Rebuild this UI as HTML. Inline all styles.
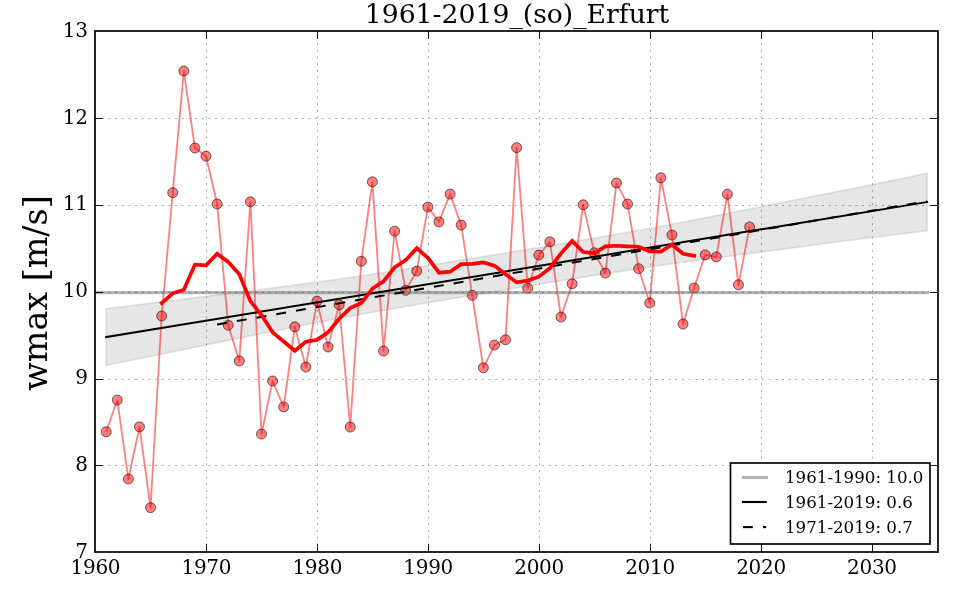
<!DOCTYPE html>
<html lang="de">
<head>
<meta charset="utf-8">
<title>1961-2019_(so)_Erfurt</title>
<style>
html,body{margin:0;padding:0;background:#fff;}
body{width:960px;height:600px;overflow:hidden;}
svg{display:block;will-change:transform;}
text{font-family:"DejaVu Serif","Liberation Serif",serif;fill:#000;font-stretch:normal;}
.tk{font-size:20px;letter-spacing:-0.3px;}
.lg{font-size:16.67px;}
</style>
</head>
<body>
<svg width="960" height="600" viewBox="0 0 960 600">
<rect x="0" y="0" width="960" height="600" fill="#ffffff"/>
<clipPath id="ax"><rect x="95" y="31" width="843" height="521"/></clipPath>
<g clip-path="url(#ax)">
<polygon points="106.19,308.77 150.56,303.27 206.03,296.34 261.5,289.52 316.96,282.2 372.42,274.27 427.89,265.55 483.36,256.62 538.82,247.5 594.28,238.18 649.75,228.45 705.22,217.83 760.68,206.7 816.14,195.78 871.61,184.86 927.08,173.28 927.08,230.78 871.61,237.46 816.14,244.78 760.68,252.1 705.22,259.23 649.75,266.85 594.28,275.38 538.82,284.3 483.36,293.42 427.89,302.75 372.42,312.27 316.96,322.6 261.5,333.52 206.03,344.94 150.56,356.27 106.19,365.37" fill="rgb(128,128,128)" fill-opacity="0.2" stroke="rgb(128,128,128)" stroke-opacity="0.2" stroke-width="1.67"/>
<polyline points="106.19,431.85 117.29,400 128.38,479.05 139.47,426.85 150.56,507.65 161.66,316 172.75,192.7 183.84,71 194.94,148 206.03,156.25 217.12,204 228.22,325.25 239.31,360.9 250.4,201.85 261.5,434.05 272.59,381 283.68,406.95 294.77,326.85 305.87,367 316.96,301.1 328.05,346.95 339.15,304.8 350.24,427.05 361.33,261.25 372.42,181.85 383.52,351.05 394.61,231.2 405.7,290.3 416.8,271.05 427.89,207.05 438.98,221.9 450.08,194.1 461.17,225.05 472.26,295.3 483.36,367.8 494.45,345.05 505.54,339.8 516.63,147.65 527.73,288.3 538.82,255.05 549.91,241.8 561.01,317.05 572.1,283.8 583.19,204.8 594.28,252.8 605.38,273.05 616.47,183.05 627.56,204.05 638.66,268.7 649.75,303.05 660.84,177.8 671.94,235.05 683.03,324.05 694.12,288.05 705.22,254.9 716.31,256.9 727.4,194.2 738.49,284.8 749.59,226.9" fill="none" stroke="#ff0000" stroke-opacity="0.5" stroke-width="1.8" stroke-linejoin="round"/>
<g fill="#ff0000" fill-opacity="0.5" stroke="#000" stroke-opacity="0.62" stroke-width="0.9">
<circle cx="106.19" cy="431.85" r="5"/>
<circle cx="117.29" cy="400" r="5"/>
<circle cx="128.38" cy="479.05" r="5"/>
<circle cx="139.47" cy="426.85" r="5"/>
<circle cx="150.56" cy="507.65" r="5"/>
<circle cx="161.66" cy="316" r="5"/>
<circle cx="172.75" cy="192.7" r="5"/>
<circle cx="183.84" cy="71" r="5"/>
<circle cx="194.94" cy="148" r="5"/>
<circle cx="206.03" cy="156.25" r="5"/>
<circle cx="217.12" cy="204" r="5"/>
<circle cx="228.22" cy="325.25" r="5"/>
<circle cx="239.31" cy="360.9" r="5"/>
<circle cx="250.4" cy="201.85" r="5"/>
<circle cx="261.5" cy="434.05" r="5"/>
<circle cx="272.59" cy="381" r="5"/>
<circle cx="283.68" cy="406.95" r="5"/>
<circle cx="294.77" cy="326.85" r="5"/>
<circle cx="305.87" cy="367" r="5"/>
<circle cx="316.96" cy="301.1" r="5"/>
<circle cx="328.05" cy="346.95" r="5"/>
<circle cx="339.15" cy="304.8" r="5"/>
<circle cx="350.24" cy="427.05" r="5"/>
<circle cx="361.33" cy="261.25" r="5"/>
<circle cx="372.42" cy="181.85" r="5"/>
<circle cx="383.52" cy="351.05" r="5"/>
<circle cx="394.61" cy="231.2" r="5"/>
<circle cx="405.7" cy="290.3" r="5"/>
<circle cx="416.8" cy="271.05" r="5"/>
<circle cx="427.89" cy="207.05" r="5"/>
<circle cx="438.98" cy="221.9" r="5"/>
<circle cx="450.08" cy="194.1" r="5"/>
<circle cx="461.17" cy="225.05" r="5"/>
<circle cx="472.26" cy="295.3" r="5"/>
<circle cx="483.36" cy="367.8" r="5"/>
<circle cx="494.45" cy="345.05" r="5"/>
<circle cx="505.54" cy="339.8" r="5"/>
<circle cx="516.63" cy="147.65" r="5"/>
<circle cx="527.73" cy="288.3" r="5"/>
<circle cx="538.82" cy="255.05" r="5"/>
<circle cx="549.91" cy="241.8" r="5"/>
<circle cx="561.01" cy="317.05" r="5"/>
<circle cx="572.1" cy="283.8" r="5"/>
<circle cx="583.19" cy="204.8" r="5"/>
<circle cx="594.28" cy="252.8" r="5"/>
<circle cx="605.38" cy="273.05" r="5"/>
<circle cx="616.47" cy="183.05" r="5"/>
<circle cx="627.56" cy="204.05" r="5"/>
<circle cx="638.66" cy="268.7" r="5"/>
<circle cx="649.75" cy="303.05" r="5"/>
<circle cx="660.84" cy="177.8" r="5"/>
<circle cx="671.94" cy="235.05" r="5"/>
<circle cx="683.03" cy="324.05" r="5"/>
<circle cx="694.12" cy="288.05" r="5"/>
<circle cx="705.22" cy="254.9" r="5"/>
<circle cx="716.31" cy="256.9" r="5"/>
<circle cx="727.4" cy="194.2" r="5"/>
<circle cx="738.49" cy="284.8" r="5"/>
<circle cx="749.59" cy="226.9" r="5"/>
</g>
<line x1="95" y1="292.6" x2="929" y2="292.6" stroke="rgb(128,128,128)" stroke-opacity="0.6" stroke-width="3.2"/>
<line x1="106.19" y1="337.07" x2="927.08" y2="202.03" stroke="#000" stroke-width="2" stroke-linecap="square"/>
<line x1="217.12" y1="324.5" x2="927.08" y2="201.1" stroke="#000" stroke-width="2" stroke-dasharray="10 10"/>
<polyline points="161.66,303.03 172.75,293.34 183.84,289.79 194.94,264.59 206.03,265.24 217.12,253.73 228.22,262 239.31,274.19 250.4,301.1 261.5,315.02 272.59,332.35 283.68,341.52 294.77,350.77 305.87,341.71 316.96,339.9 328.05,332.35 339.15,318.73 350.24,308.13 361.33,303.05 372.42,288.51 383.52,281.31 394.61,267.42 405.7,260.17 416.8,248.19 427.89,257.88 438.98,272.71 450.08,271.69 461.17,264.1 472.26,263.91 483.36,262.46 494.45,265.62 505.54,274.27 516.63,282.42 527.73,280.58 538.82,276.72 549.91,268.1 561.01,253.38 572.1,241.04 583.19,252.04 594.28,253.38 605.38,246.36 616.47,245.75 627.56,246.38 638.66,246.77 649.75,251.32 660.84,251.7 671.94,244.53 683.03,253.78 694.12,255.85" fill="none" stroke="#ff0000" stroke-width="3.7" stroke-linejoin="miter" stroke-linecap="square"/>
</g>
<g stroke="#000" stroke-opacity="0.33" stroke-width="1" stroke-dasharray="2 4.67" fill="none">
<line x1="206.5" y1="552" x2="206.5" y2="31"/>
<line x1="317.5" y1="552" x2="317.5" y2="31"/>
<line x1="428.5" y1="552" x2="428.5" y2="31"/>
<line x1="539.5" y1="552" x2="539.5" y2="31"/>
<line x1="650.5" y1="552" x2="650.5" y2="31"/>
<line x1="761.5" y1="552" x2="761.5" y2="31"/>
<line x1="872.5" y1="552" x2="872.5" y2="31"/>
<line x1="95" y1="465.5" x2="938" y2="465.5"/>
<line x1="95" y1="379.5" x2="938" y2="379.5"/>
<line x1="95" y1="292.5" x2="938" y2="292.5"/>
<line x1="95" y1="205.5" x2="938" y2="205.5"/>
<line x1="95" y1="118.5" x2="938" y2="118.5"/>
</g>
<g stroke="#000" stroke-width="0.9" fill="none">
<line x1="206.5" y1="552" x2="206.5" y2="544"/>
<line x1="206.5" y1="31" x2="206.5" y2="39"/>
<line x1="317.5" y1="552" x2="317.5" y2="544"/>
<line x1="317.5" y1="31" x2="317.5" y2="39"/>
<line x1="428.5" y1="552" x2="428.5" y2="544"/>
<line x1="428.5" y1="31" x2="428.5" y2="39"/>
<line x1="539.5" y1="552" x2="539.5" y2="544"/>
<line x1="539.5" y1="31" x2="539.5" y2="39"/>
<line x1="650.5" y1="552" x2="650.5" y2="544"/>
<line x1="650.5" y1="31" x2="650.5" y2="39"/>
<line x1="761.5" y1="552" x2="761.5" y2="544"/>
<line x1="761.5" y1="31" x2="761.5" y2="39"/>
<line x1="872.5" y1="552" x2="872.5" y2="544"/>
<line x1="872.5" y1="31" x2="872.5" y2="39"/>
<line x1="95" y1="465.5" x2="103" y2="465.5"/>
<line x1="938" y1="465.5" x2="930" y2="465.5"/>
<line x1="95" y1="379.5" x2="103" y2="379.5"/>
<line x1="938" y1="379.5" x2="930" y2="379.5"/>
<line x1="95" y1="292.5" x2="103" y2="292.5"/>
<line x1="938" y1="292.5" x2="930" y2="292.5"/>
<line x1="95" y1="205.5" x2="103" y2="205.5"/>
<line x1="938" y1="205.5" x2="930" y2="205.5"/>
<line x1="95" y1="118.5" x2="103" y2="118.5"/>
<line x1="938" y1="118.5" x2="930" y2="118.5"/>
</g>
<rect x="95" y="31" width="843" height="521" fill="none" stroke="#000" stroke-width="1.7"/>
<g class="tk" text-anchor="middle">
<text x="95.4" y="574">1960</text>
<text x="206.33" y="574">1970</text>
<text x="317.26" y="574">1980</text>
<text x="428.19" y="574">1990</text>
<text x="539.12" y="574">2000</text>
<text x="650.05" y="574">2010</text>
<text x="760.98" y="574">2020</text>
<text x="871.91" y="574">2030</text>
</g>
<g class="tk" text-anchor="end">
<text x="87.7" y="558">7</text>
<text x="87.7" y="471">8</text>
<text x="87.7" y="384">9</text>
<text x="87.7" y="297">10</text>
<text x="87.7" y="210">11</text>
<text x="87.7" y="124">12</text>
<text x="87.7" y="37">13</text>
</g>
<text x="517" y="23.3" text-anchor="middle" font-size="26.67">1961-2019_(so)_Erfurt</text>
<text transform="translate(46.5,293) rotate(-90)" text-anchor="middle" font-size="33.33">wmax [m/s]</text>
<rect x="730.5" y="463" width="199.5" height="81" fill="#fff" stroke="#000" stroke-width="1.67"/>
<line x1="742" y1="477.5" x2="768" y2="477.5" stroke="rgb(128,128,128)" stroke-opacity="0.6" stroke-width="3.2"/>
<line x1="742" y1="502" x2="766.8" y2="502" stroke="#000" stroke-width="2.1"/>
<line x1="743" y1="527.1" x2="752.8" y2="527.1" stroke="#000" stroke-width="2.1"/>
<line x1="763" y1="527.1" x2="766.2" y2="527.1" stroke="#000" stroke-width="2.1"/>
<g class="lg">
<text x="785" y="483">1961-1990: 10.0</text>
<text x="785" y="507.6">1961-2019: 0.6</text>
<text x="785" y="532.6">1971-2019: 0.7</text>
</g>
</svg>
</body>
</html>
